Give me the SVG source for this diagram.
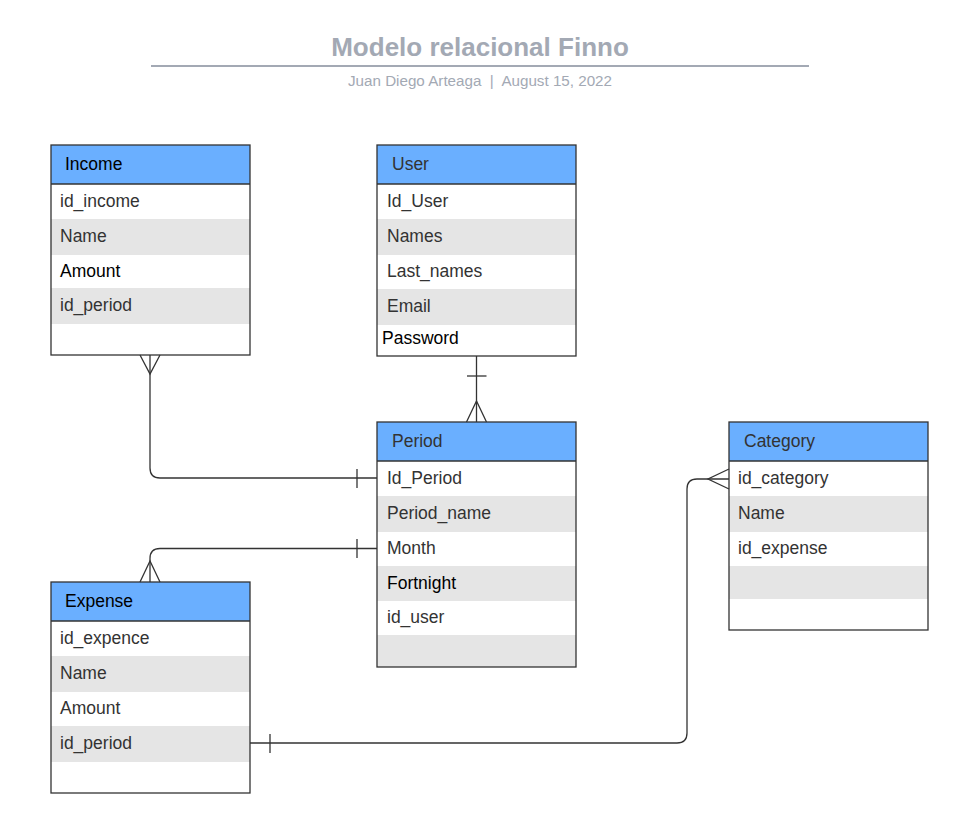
<svg xmlns="http://www.w3.org/2000/svg" width="964" height="828" viewBox="0 0 964 828">
<style>
.bg{fill:#ffffff}
.hdr{fill:#6aafff}
.gray{fill:#e5e5e5}
.frame{fill:none;stroke:#333333;stroke-width:1.3}
.sep{stroke:#333333;stroke-width:1.3}
text{font-family:"Liberation Sans",Arial,sans-serif;font-size:17.5px;fill:#333333}
.blk{fill:#000000}
.title{font-size:26px;font-weight:bold;fill:#a3a9b4}
.sub{font-size:15.2px;fill:#a3a9b4}
.conn{fill:none;stroke:#333333;stroke-width:1.3}
</style>
<rect x="0" y="0" width="964" height="828" fill="#ffffff"/>
<g id="title">
<text class="title" x="480" y="56" text-anchor="middle">Modelo relacional Finno</text>
<line x1="151" y1="66" x2="809" y2="66" stroke="#a3a9b4" stroke-width="2"/>
<text class="sub" x="480" y="86" text-anchor="middle" xml:space="preserve">Juan Diego Arteaga  |  August 15, 2022</text>
</g>
<g id="income">
<rect class="bg" x="51" y="145" width="199" height="210"/>
<rect class="hdr" x="51" y="145" width="199" height="39"/>
<rect class="gray" x="51" y="219" width="199" height="36"/>
<rect class="gray" x="51" y="288" width="199" height="36"/>
<line class="sep" x1="51" y1="184" x2="250" y2="184"/>
<rect class="frame" x="51" y="145" width="199" height="210"/>
<text class="blk" x="65" y="169.5">Income</text>
<text x="60" y="206.5">id_income</text>
<text x="60" y="241.5">Name</text>
<text class="blk" x="60" y="276.5">Amount</text>
<text x="60" y="310.5">id_period</text>
</g>
<g id="user">
<rect class="bg" x="377" y="145" width="199" height="211"/>
<rect class="hdr" x="377" y="145" width="199" height="39"/>
<rect class="gray" x="377" y="219" width="199" height="36"/>
<rect class="gray" x="377" y="289" width="199" height="36"/>
<line class="sep" x1="377" y1="184" x2="576" y2="184"/>
<rect class="frame" x="377" y="145" width="199" height="211"/>
<text x="392" y="169.5">User</text>
<text x="387" y="206.5">Id_User</text>
<text x="387" y="241.5">Names</text>
<text x="387" y="276.5">Last_names</text>
<text x="387" y="311.5">Email</text>
<text class="blk" x="382" y="343.5">Password</text>
</g>
<g id="period">
<rect class="bg" x="377" y="422" width="199" height="245"/>
<rect class="hdr" x="377" y="422" width="199" height="39"/>
<rect class="gray" x="377" y="496" width="199" height="36"/>
<rect class="gray" x="377" y="566" width="199" height="35"/>
<rect class="gray" x="377" y="635" width="199" height="32"/>
<line class="sep" x1="377" y1="461" x2="576" y2="461"/>
<rect class="frame" x="377" y="422" width="199" height="245"/>
<text x="392" y="446.5">Period</text>
<text x="387" y="483.5">Id_Period</text>
<text x="387" y="518.5">Period_name</text>
<text x="387" y="553.5">Month</text>
<text class="blk" x="387" y="588.5">Fortnight</text>
<text x="387" y="622.5">id_user</text>
</g>
<g id="category">
<rect class="bg" x="729" y="422" width="199" height="208"/>
<rect class="hdr" x="729" y="422" width="199" height="39"/>
<rect class="gray" x="729" y="496" width="199" height="36"/>
<rect class="gray" x="729" y="566" width="199" height="33"/>
<line class="sep" x1="729" y1="461" x2="928" y2="461"/>
<rect class="frame" x="729" y="422" width="199" height="208"/>
<text x="744" y="446.5">Category</text>
<text x="738" y="483.5">id_category</text>
<text x="738" y="518.5">Name</text>
<text x="738" y="553.5">id_expense</text>
</g>
<g id="expense">
<rect class="bg" x="51" y="582" width="199" height="211"/>
<rect class="hdr" x="51" y="582" width="199" height="39"/>
<rect class="gray" x="51" y="656" width="199" height="36"/>
<rect class="gray" x="51" y="726" width="199" height="36"/>
<line class="sep" x1="51" y1="621" x2="250" y2="621"/>
<rect class="frame" x="51" y="582" width="199" height="211"/>
<text class="blk" x="65" y="606.5">Expense</text>
<text x="60" y="643.5">id_expence</text>
<text x="60" y="678.5">Name</text>
<text x="60" y="713.5">Amount</text>
<text x="60" y="748.5">id_period</text>
</g>
<g id="connectors">
<path class="conn" d="M150 355 V468 Q150 478 160 478 H377"/>
<path class="conn" d="M140 355 L150 374 L160 355"/>
<line class="conn" x1="357" y1="469" x2="357" y2="488"/>
<path class="conn" d="M476.5 356 V422"/>
<line class="conn" x1="467" y1="376" x2="486.5" y2="376"/>
<path class="conn" d="M466.5 422 L476.5 401 L486.5 422"/>
<path class="conn" d="M377 548.5 H160 Q150 548.5 150 558.5 V582"/>
<line class="conn" x1="357" y1="539" x2="357" y2="558"/>
<path class="conn" d="M140 582 L150 561 L160 582"/>
<path class="conn" d="M250 743 H677 Q687 743 687 733 V489 Q687 479 697 479 H729"/>
<line class="conn" x1="270" y1="734" x2="270" y2="753"/>
<path class="conn" d="M729 469 L708 479 L729 489"/>
</g>
</svg>
